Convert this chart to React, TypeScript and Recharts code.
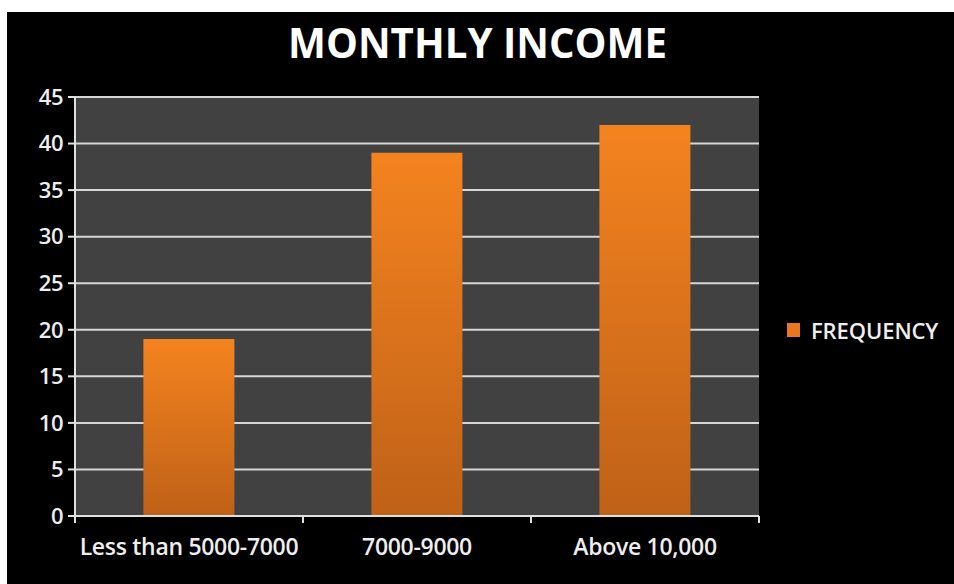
import React from 'react';
import { BarChart, Bar, XAxis, YAxis, CartesianGrid, Legend } from 'recharts';

const incomeGroups = ['Less than 5000-7000', '7000-9000', 'Above 10,000'];
const frequency = [19, 39, 42];
const yTicks = [0, 5, 10, 15, 20, 25, 30, 35, 40, 45];

const data = incomeGroups.map((group, i) => ({ group, FREQUENCY: frequency[i] }));

const FONT = '"Open Sans", "DejaVu Sans", sans-serif';
const TICK_STYLE = { fill: '#eeeeee', fontFamily: FONT, fontWeight: 600 };
const AXIS_COLOR = '#e0e0e0';

// category label + small tick marks on the band edges (like Excel)
const CategoryTick = (props: any) => {
  const { x, y, payload, index, visibleTicksCount } = props;
  const half = payload.offset ?? 0;
  const last = index === visibleTicksCount - 1;
  return (
    <g>
      <line x1={x - half} x2={x - half} y1={y - 7} y2={y} stroke={AXIS_COLOR} strokeWidth={2} />
      {last && <line x1={x + half} x2={x + half} y1={y - 7} y2={y} stroke={AXIS_COLOR} strokeWidth={2} />}
      <text x={x} y={y} dy={32} textAnchor="middle" fontSize={23} letterSpacing={-0.3} {...TICK_STYLE}>
        {payload.value}
      </text>
    </g>
  );
};

const LegendBox = () => (
  <div style={{ display: 'flex', alignItems: 'center', fontFamily: FONT, fontWeight: 600, color: '#eeeeee', fontSize: 22 }}>
    <div style={{ width: 13, height: 14, background: '#e8781f', marginRight: 11 }} />
    <span style={{ letterSpacing: -0.1 }}>FREQUENCY</span>
  </div>
);

export default function App() {
  return (
    <div style={{ position: 'absolute', left: 0, top: 0, width: 954, height: 584, background: '#ffffff', overflow: 'hidden' }}>
      <div style={{ position: 'absolute', left: 7, top: 12, width: 947, height: 572, background: '#000000' }} />
      <svg style={{ position: 'absolute', left: 0, top: 0 }} width={954} height={80}>
        <text
          x={288}
          y={58}
          textLength={379}
          lengthAdjust="spacingAndGlyphs"
          fill="#ffffff"
          fontFamily={FONT}
          fontWeight={700}
          fontSize={41}
        >
          MONTHLY INCOME
        </text>
      </svg>
      <div style={{ position: 'absolute', left: 0, top: 0 }}>
        <BarChart
          width={954}
          height={584}
          data={data}
          margin={{ top: 97, right: 195, bottom: 67, left: 7 }}
          barCategoryGap="30%"
        >
          <defs>
            <linearGradient id="barFill" x1="0" y1="0" x2="0" y2="1">
              <stop offset="0%" stopColor="#f4831f" />
              <stop offset="100%" stopColor="#bf6118" />
            </linearGradient>
          </defs>
          <CartesianGrid
            vertical={false}
            fill="#414141"
            fillOpacity={1}
            stroke="#d6d6d6"
            strokeWidth={2}
            strokeOpacity={1}
          />
          <XAxis
            dataKey="group"
            height={1}
            axisLine={{ stroke: AXIS_COLOR, strokeWidth: 2 }}
            tickLine={false}
            tickSize={7}
            tickMargin={0}
            tick={<CategoryTick />}
            interval={0}
          />
          <YAxis
            width={68}
            domain={[0, 45]}
            ticks={yTicks}
            interval={0}
            axisLine={{ stroke: AXIS_COLOR, strokeWidth: 2 }}
            tickLine={{ stroke: AXIS_COLOR, strokeWidth: 2 }}
            tickSize={7}
            tick={{ ...TICK_STYLE, fontSize: 22, letterSpacing: -0.5, dx: -3 }}
          />
          <Legend
            layout="horizontal"
            verticalAlign="middle"
            align="center"
            wrapperStyle={{ top: 315, left: 787, width: 170 }}
            content={() => <LegendBox />}
          />
          <Bar dataKey="FREQUENCY" fill="url(#barFill)" isAnimationActive={false} />
        </BarChart>
      </div>
    </div>
  );
}
